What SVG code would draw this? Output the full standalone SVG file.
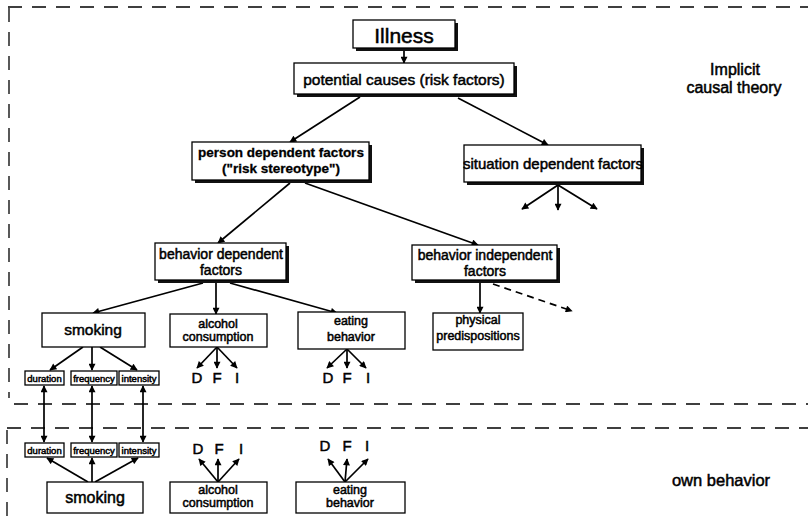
<svg xmlns="http://www.w3.org/2000/svg" width="808" height="518" viewBox="0 0 808 518">
<defs>
<style>
.box{fill:#fff;stroke:#000;stroke-width:1.3}
.sh{fill:#111}
.t{font-family:"Liberation Sans",Arial,Helvetica,sans-serif;fill:#000;text-anchor:middle;stroke:#000;stroke-width:0.5}
.b{font-weight:bold;stroke-width:0.3}
.ln{stroke:#000;stroke-width:1.7;fill:none;marker-end:url(#ah)}
.bi{marker-start:url(#ah)}
.dl{stroke-dasharray:7 5}
.frame{stroke:#000;stroke-width:1.3;fill:none;stroke-dasharray:14 10}
</style>
<marker id="ah" viewBox="0 0 10 10" refX="9" refY="5" markerWidth="8" markerHeight="7" markerUnits="userSpaceOnUse" orient="auto-start-reverse">
<path d="M0,0 L10,5 L0,10 z" fill="#000"/>
</marker>
</defs>
<rect width="808" height="518" fill="#fff"/>

<g id="frame">
<path class="frame" d="M8,7 H808"/>
<path class="frame" d="M9,8 V398"/>
<path class="frame" d="M14,404 H808"/>
<path class="frame" d="M7,428 H808"/>
<path class="frame" d="M7,430 V518"/>
</g>

<g id="labels">
<text class="t" x="735" y="75" font-size="16">Implicit</text>
<text class="t" x="734" y="93" font-size="16">causal theory</text>
<text class="t" x="721" y="486" font-size="16.5">own behavior</text>
</g>

<g id="connectors">
<path class="ln" d="M404,51 L404,63"/>
<path class="ln" d="M360,97 L290,142"/>
<path class="ln" d="M458,98 L548,145"/>
<path class="ln" d="M290,183 L218,243"/>
<path class="ln" d="M305,183 L478,245"/>
<path class="ln" d="M558,185 L522,209"/>
<path class="ln" d="M558,185 L558,210"/>
<path class="ln" d="M558,185 L597,209"/>
<path class="ln" d="M203,283 L93,313"/>
<path class="ln" d="M216,283 L216,314"/>
<path class="ln" d="M230,283 L337,313"/>
<path class="ln" d="M480,283 L480,313"/>
<path class="ln dl" d="M493,284 L572,311"/>
<path class="ln" d="M83,347 L50,370"/>
<path class="ln" d="M92,347 L92,370"/>
<path class="ln" d="M100,347 L137,370"/>
<path class="ln" d="M217,347 L197,368"/>
<path class="ln" d="M217,347 L217,368"/>
<path class="ln" d="M217,347 L237,368"/>
<path class="ln" d="M347,349 L327,368"/>
<path class="ln" d="M347,349 L347,368"/>
<path class="ln" d="M347,349 L366,368"/>
<path class="ln bi" d="M44,386 L44,442"/>
<path class="ln bi" d="M92,386 L92,442"/>
<path class="ln bi" d="M143,386 L143,442"/>
<path class="ln" d="M88,482 L47,458"/>
<path class="ln" d="M92,482 L92,458"/>
<path class="ln" d="M95,482 L138,458"/>
<path class="ln" d="M218,482 L199,459"/>
<path class="ln" d="M218,482 L218,459"/>
<path class="ln" d="M218,482 L239,459"/>
<path class="ln" d="M345,482 L328,459"/>
<path class="ln" d="M345,482 L347,459"/>
<path class="ln" d="M345,482 L368,459"/>
</g>

<g id="illness">
<rect class="sh" x="356" y="23" width="102" height="28"/>
<rect class="box" x="353" y="20" width="102" height="28"/>
<text class="t" x="404" y="43" font-size="21">Illness</text>
</g>

<g id="potential-causes">
<rect class="sh" x="297" y="66" width="220" height="31"/>
<rect class="box" x="294" y="63" width="220" height="31"/>
<text class="t" x="404" y="85" font-size="15.5">potential causes (risk factors)</text>
</g>

<g id="person-dependent">
<rect class="sh" x="195" y="145" width="177" height="38"/>
<rect class="box" x="192" y="142" width="177" height="38"/>
<text class="t b" x="281" y="157" font-size="13.5">person dependent factors</text>
<text class="t b" x="281" y="173" font-size="13.5">("risk stereotype")</text>
</g>

<g id="situation-dependent">
<rect class="sh" x="467" y="148" width="177" height="37"/>
<rect class="box" x="464" y="145" width="177" height="37"/>
<text class="t" x="553" y="169" font-size="15">situation dependent factors</text>
</g>

<g id="behavior-dependent">
<rect class="sh" x="158" y="246" width="131" height="37"/>
<rect class="box" x="155" y="243" width="131" height="37"/>
<text class="t" x="221" y="259" font-size="14">behavior dependent</text>
<text class="t" x="221" y="275" font-size="14">factors</text>
</g>

<g id="behavior-independent">
<rect class="sh" x="415" y="248" width="145" height="35"/>
<rect class="box" x="412" y="245" width="145" height="35"/>
<text class="t" x="485" y="260" font-size="14">behavior independent</text>
<text class="t" x="485" y="276" font-size="14">factors</text>
</g>

<g id="smoking-top">
<rect class="box" x="42" y="313" width="103" height="34"/>
<text class="t" x="93" y="335" font-size="15.5">smoking</text>
</g>

<g id="alcohol-top">
<rect class="box" x="170" y="314" width="97" height="33"/>
<text class="t" x="218" y="328" font-size="12.5">alcohol</text>
<text class="t" x="218" y="341" font-size="12.5">consumption</text>
</g>

<g id="eating-top">
<rect class="box" x="298" y="312" width="107" height="37"/>
<text class="t" x="351" y="325" font-size="12.5">eating</text>
<text class="t" x="351" y="341" font-size="12.5">behavior</text>
</g>

<g id="physical">
<rect class="box" x="433" y="313" width="90" height="37"/>
<text class="t" x="478" y="324" font-size="12.5">physical</text>
<text class="t" x="478" y="340" font-size="12.5">predispositions</text>
</g>

<g id="duration-top">
<rect class="box" x="25" y="371" width="39" height="14"/>
<text class="t" x="44.5" y="381.5" font-size="9.5">duration</text>
</g>
<g id="frequency-top">
<rect class="box" x="71" y="371" width="46" height="14"/>
<text class="t" x="94" y="381.5" font-size="9.5">frequency</text>
</g>
<g id="intensity-top">
<rect class="box" x="119" y="371" width="40" height="14"/>
<text class="t" x="139" y="381.5" font-size="9.5">intensity</text>
</g>

<g id="dfi-alcohol-top">
<text class="t" x="197" y="383" font-size="15">D</text>
<text class="t" x="217" y="383" font-size="15">F</text>
<text class="t" x="237" y="383" font-size="15">I</text>
</g>
<g id="dfi-eating-top">
<text class="t" x="328" y="383" font-size="15">D</text>
<text class="t" x="347" y="383" font-size="15">F</text>
<text class="t" x="368" y="383" font-size="15">I</text>
</g>

<g id="duration-bottom">
<rect class="box" x="25" y="443" width="39" height="14"/>
<text class="t" x="44.5" y="453.5" font-size="9.5">duration</text>
</g>
<g id="frequency-bottom">
<rect class="box" x="71" y="443" width="46" height="14"/>
<text class="t" x="94" y="453.5" font-size="9.5">frequency</text>
</g>
<g id="intensity-bottom">
<rect class="box" x="119" y="443" width="40" height="14"/>
<text class="t" x="139" y="453.5" font-size="9.5">intensity</text>
</g>

<g id="smoking-bottom">
<rect class="box" x="47" y="482" width="96" height="31"/>
<text class="t" x="95" y="503" font-size="16">smoking</text>
</g>

<g id="alcohol-bottom">
<rect class="box" x="170" y="482" width="97" height="31"/>
<text class="t" x="218" y="494" font-size="12.5">alcohol</text>
<text class="t" x="218" y="507" font-size="12.5">consumption</text>
</g>

<g id="eating-bottom">
<rect class="box" x="296" y="482" width="109" height="31"/>
<text class="t" x="350" y="494" font-size="12.5">eating</text>
<text class="t" x="350" y="507" font-size="12.5">behavior</text>
</g>

<g id="dfi-alcohol-bottom">
<text class="t" x="198" y="454" font-size="15">D</text>
<text class="t" x="219" y="454" font-size="15">F</text>
<text class="t" x="241" y="454" font-size="15">I</text>
</g>
<g id="dfi-eating-bottom">
<text class="t" x="325" y="451" font-size="15">D</text>
<text class="t" x="347" y="451" font-size="15">F</text>
<text class="t" x="367" y="451" font-size="15">I</text>
</g>
</svg>
